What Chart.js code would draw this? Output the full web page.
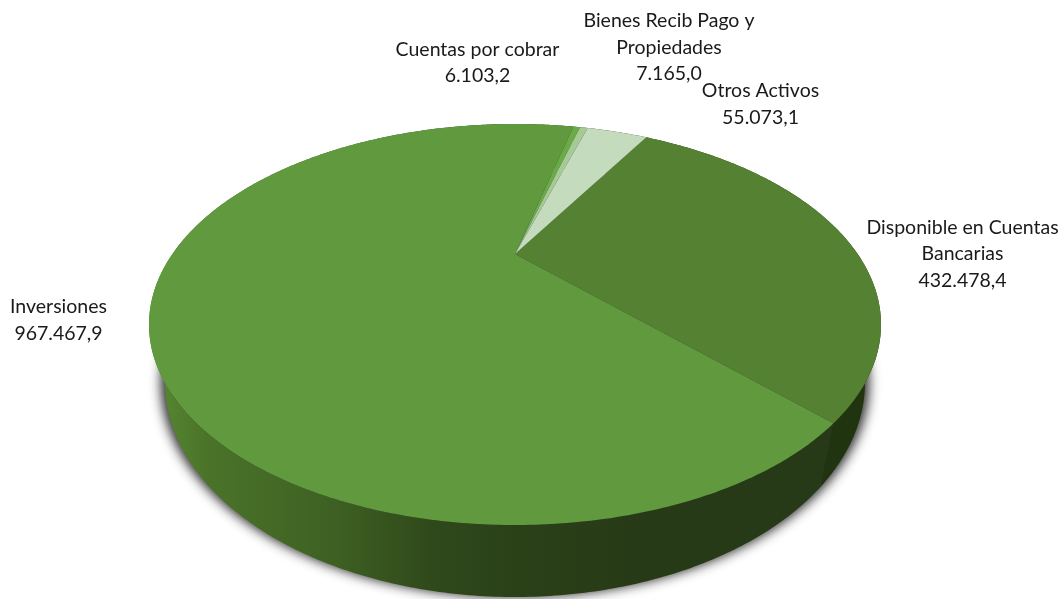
<!DOCTYPE html>
<html lang="es">
<head>
<meta charset="utf-8">
<title>Activos</title>
<script src="https://cdn.jsdelivr.net/npm/chart.js@4/dist/chart.umd.js"></script>
<style>
    html, body { margin: 0; padding: 0; background: #ffffff; }
    canvas { display: block; }
</style>
</head>
<body>
<canvas id="grafico" width="1061" height="599"></canvas>
<script>
// Datos del grafico, en orden de giro desde el borde de "Otros Activos"
const categorias = [
    ["Disponible en Cuentas", "Bancarias"],
    ["Inversiones"],
    ["Cuentas por cobrar"],
    ["Bienes Recib Pago y", "Propiedades"],
    ["Otros Activos"]
];
const valores = [432478.4, 967467.9, 6103.2, 7165.0, 55073.1];

const coloresCara = ["#558133", "#619a3e", "#6bab47", "#a6ca96", "#c5dbbd"];
const coloresLado = ["#213410", null, "#2a4118", "#2a4118", "#2a4118"];

// Centro de cada rotulo (x) y linea base de su primera linea (y)
const posRotulos = [
    { x: 962.5, y: 233.5 },
    { x: 58.5, y: 313 },
    { x: 477.5, y: 55.5 },
    { x: 669, y: 27 },
    { x: 760.5, y: 97 }
];
const ALTO_LINEA = 26.5;

// Proyeccion en perspectiva del circulo unidad a una elipse cuyo centro
// real cae en apexY, por encima del centro de la elipse
function crearProyeccion(cx, apexY, arriba, abajo, semiAncho) {
    const lejos = apexY - arriba;
    const cerca = abajo - apexY;
    const A = 2 / (1 / lejos + 1 / cerca);
    const c = A / cerca - 1;
    const B = semiAncho * Math.sqrt(1 - c * c);
    return (ang) => {
        const u = Math.cos(ang);
        const v = Math.sin(ang);
        const d = 1 + c * v;
        return { x: cx + B * u / d, y: apexY + A * v / d };
    };
}

const caraSup = crearProyeccion(515, 254, 124, 525, 366);
const caraInf = crearProyeccion(515, 306, 167, 597, 350);
const contornoSombra = crearProyeccion(515, 306, 167, 597, 354);

function trazarBorde(ctx, proy, ini, fin, primero) {
    const pasos = Math.max(2, Math.ceil(Math.abs(fin - ini) / 0.01));
    for (let i = 0; i <= pasos; i++) {
        const p = proy(ini + (fin - ini) * i / pasos);
        if (i === 0 && primero) ctx.moveTo(p.x, p.y);
        else ctx.lineTo(p.x, p.y);
    }
}

function gradienteLado(ctx) {
    const g = ctx.createLinearGradient(166, 0, 640, 0);
    g.addColorStop(0, "#558430");
    g.addColorStop(0.09, "#4a7329");
    g.addColorStop(0.35, "#3e6123");
    g.addColorStop(0.56, "#30491b");
    g.addColorStop(0.74, "#2a4118");
    g.addColorStop(1, "#273a17");
    return g;
}

const pastel3d = {
    id: "pastel3d",
    beforeDatasetsDraw(chart) {
        const ctx = chart.ctx;
        const arcos = chart.getDatasetMeta(0).data;

        // sombra bajo la base: la forma queda fuera del lienzo y solo se ve su difuminado
        ctx.save();
        ctx.shadowColor = "rgba(30, 30, 30, 0.95)";
        ctx.shadowBlur = 12;
        ctx.shadowOffsetX = 2000;
        ctx.translate(-2000, 0);
        ctx.fillStyle = "#000000";
        ctx.beginPath();
        trazarBorde(ctx, contornoSombra, 0, Math.PI * 2, true);
        ctx.closePath();
        ctx.fill();
        ctx.restore();

        // paredes laterales
        arcos.forEach((arco, i) => {
            ctx.beginPath();
            trazarBorde(ctx, caraSup, arco.startAngle, arco.endAngle, true);
            trazarBorde(ctx, caraInf, arco.endAngle, arco.startAngle, false);
            ctx.closePath();
            ctx.fillStyle = coloresLado[i] || gradienteLado(ctx);
            ctx.fill();
        });

        // cara superior
        const centro = { x: 515, y: 254 };
        arcos.forEach((arco) => {
            ctx.beginPath();
            ctx.moveTo(centro.x, centro.y);
            trazarBorde(ctx, caraSup, arco.startAngle, arco.endAngle, false);
            ctx.closePath();
            ctx.fillStyle = arco.options.backgroundColor;
            ctx.fill();
        });
        return false;
    },
    afterDraw(chart) {
        const ctx = chart.ctx;
        ctx.save();
        ctx.font = '19.5px Lato, "Open Sans", sans-serif';
        ctx.fillStyle = "#1a1a1a";
        ctx.textAlign = "center";
        ctx.textBaseline = "alphabetic";
        categorias.forEach((lineas, i) => {
            const pos = posRotulos[i];
            const texto = lineas.concat(formatoValor(valores[i]));
            texto.forEach((linea, j) => ctx.fillText(linea, pos.x, pos.y + j * ALTO_LINEA));
        });
        ctx.restore();
    }
};

function formatoValor(v) {
    return v.toLocaleString("de-DE", { minimumFractionDigits: 1, maximumFractionDigits: 1 });
}

new Chart(document.getElementById("grafico"), {
    type: "pie",
    data: {
        labels: categorias.map(c => c.join(" ")),
        datasets: [{
            data: valores,
            backgroundColor: coloresCara,
            borderWidth: 0
        }]
    },
    options: {
        responsive: false,
        animation: false,
        rotation: 30,
        plugins: {
            legend: { display: false },
            tooltip: { enabled: false }
        }
    },
    plugins: [pastel3d]
});
</script>
</body>
</html>
